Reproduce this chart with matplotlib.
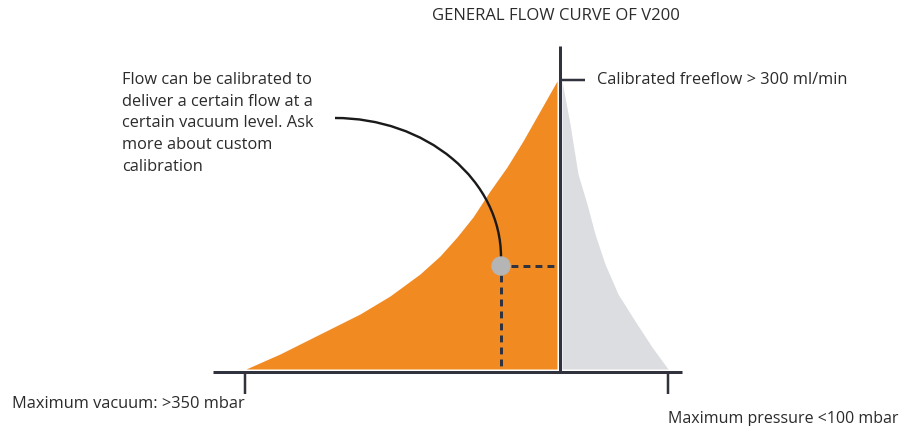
import numpy as np
import matplotlib
matplotlib.use('Agg')
import matplotlib.pyplot as plt
from matplotlib import rcParams
from matplotlib.patches import Arc, Circle

rcParams['font.family'] = ['Open Sans', 'DejaVu Sans']
rcParams['font.size'] = 11.8

# Diagram data, in picture units (x right, y down)
title = "GENERAL FLOW CURVE OF V200"
note_lines = ["Flow can be calibrated to",
              "deliver a certain flow at a",
              "certain vacuum level. Ask",
              "more about custom",
              "calibration"]
label_freeflow = "Calibrated freeflow > 300 ml/min"
label_vacuum = "Maximum vacuum: >350 mbar"
label_pressure = "Maximum pressure <100 mbar"

# vacuum side (orange) upper edge
vac_x = [246, 280, 320, 360, 390, 420, 440, 457, 473, 490, 507, 523, 540, 557]
vac_y = [370, 355, 335, 315, 297, 275, 257, 238, 218, 192, 168, 142, 112, 82]
# pressure side (grey) outer edge
prs_y = [82, 125, 175, 205, 235, 265, 295, 322, 348, 370]
prs_x = [562, 570, 578, 587, 595, 605, 618, 635, 652, 668]

base_y = 370          # bottom of the filled areas
axis_y = 373          # horizontal axis
axis_x = 560          # vertical (zero) axis
cal_point = (501, 267)  # calibration example point

dark = '#30333d'
orange = '#f28a22'
grey = '#dcdde0'
txt = '#2b2b2b'

fig = plt.figure(figsize=(9.04, 4.27), dpi=100)
ax = fig.add_axes([0, 0, 1, 1])
ax.set_xlim(0, 904)
ax.set_ylim(427, 0)
ax.axis('off')

px = 72 / 100  # pixel -> points

ax.fill_between(vac_x, vac_y, base_y, color=orange, lw=0)
ax.fill_betweenx(prs_y, prs_x[0], prs_x, color=grey, lw=0)

# axes
ax.plot([213, 682], [axis_y, axis_y], color=dark, lw=3 * px, solid_capstyle='butt')
ax.plot([axis_x, axis_x], [47, axis_y], color=dark, lw=3 * px, solid_capstyle='butt')
ax.plot([axis_x, 585], [80.5, 80.5], color=dark, lw=2.5 * px, solid_capstyle='butt')
ax.plot([245, 245], [axis_y, 395], color=dark, lw=2.5 * px, solid_capstyle='butt')
ax.plot([668, 668], [axis_y, 395], color=dark, lw=2.5 * px, solid_capstyle='butt')

# dashed guides from calibration point
cx, cy = cal_point
ax.plot([cx + 10, axis_x - 1], [cy, cy], color=dark, lw=3 * px,
        dashes=(2.3, 1.7), solid_capstyle='butt')
ax.plot([cx, cx], [cy + 9, base_y], color=dark, lw=3 * px,
        dashes=(2.3, 1.7), solid_capstyle='butt')

# callout arc from the note to the point (y axis is inverted, so 270..360)
ax.add_patch(Arc((335, 258), 2 * (cx - 335), 2 * (258 - 119), theta1=270, theta2=360,
                 color='#1a1a1a', lw=2.4 * px))
ax.add_patch(Circle((cx, cy), 9, color='#b5b5b5', zorder=5))

# texts
ax.text(556, 20, title, ha='center', va='baseline', color=txt, fontsize=12.0)
for i, line in enumerate(note_lines):
    ax.text(122, 84 + i * 21.7, line, ha='left', va='baseline', color=txt)
ax.text(597, 84, label_freeflow, ha='left', va='baseline', color=txt)
ax.text(12, 408, label_vacuum, ha='left', va='baseline', color=txt)
ax.text(668, 423, label_pressure, ha='left', va='baseline', color=txt, fontsize=11.5)

fig.savefig('out.png', dpi=100)
